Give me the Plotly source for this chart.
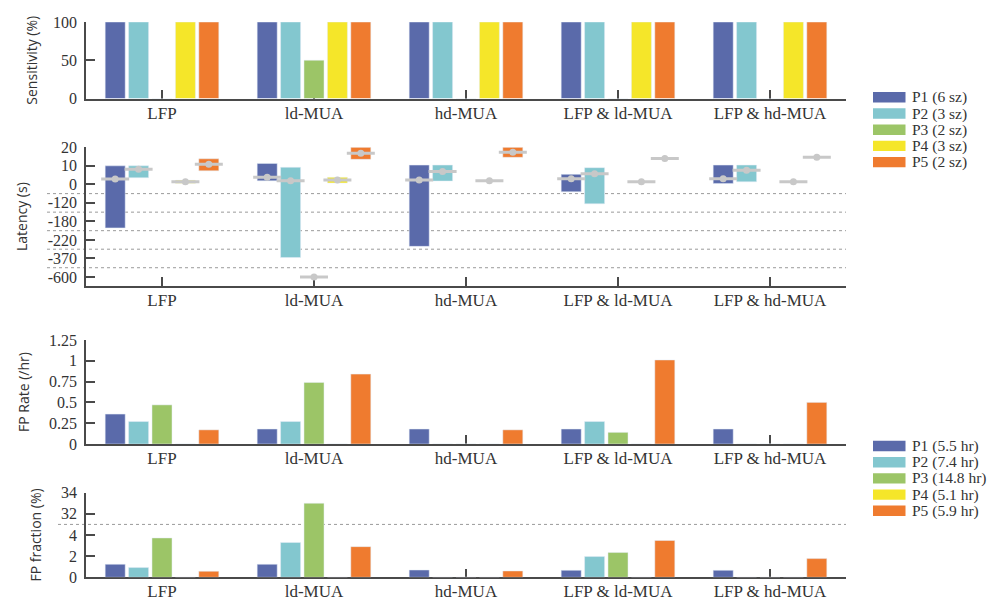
import numpy as np
import plotly.graph_objects as go

W, H = 989, 601

categories = ["LFP", "ld-MUA", "hd-MUA", "LFP & ld-MUA", "LFP & hd-MUA"]
patients = ["P1", "P2", "P3", "P4", "P5"]
colors = ["#5a6aaa", "#83c7cf", "#9cc567", "#f5e629", "#ef7b2f"]
legend_sz = ["P1 (6 sz)", "P2 (3 sz)", "P3 (2 sz)", "P4 (3 sz)", "P5 (2 sz)"]
legend_hr = ["P1 (5.5 hr)", "P2 (7.4 hr)", "P3 (14.8 hr)", "P4 (5.1 hr)", "P5 (5.9 hr)"]

# Sensitivity (%) per patient (rows) x category (cols)
sensitivity = [
    [100, 100, 100, 100, 100],
    [100, 100, 100, 100, 100],
    [0, 50, 0, 0, 0],
    [100, 100, 100, 100, 100],
    [100, 100, 100, 100, 100],
]

# Latency (s): min, max, median
lat_min = [
    [-194, 1.9, -272, -48, 0.5],
    [3.6, -362, 1.8, -123, 1.4],
    [None, -600, None, None, None],
    [0.6, 0.7, 2.0, 1.2, 1.2],
    [7.3, 13.5, 14.6, 14.0, 14.6],
]
lat_max = [
    [10, 11.3, 10.4, 5.4, 10.4],
    [10, 9.2, 10.4, 9.0, 10.4],
    [None, -600, None, None, None],
    [2.2, 3.8, 2.0, 1.6, 1.6],
    [13.8, 20, 20, 14.0, 14.6],
]
lat_med = [
    [2.9, 3.9, 2.3, 3.0, 3.0],
    [8.1, 1.9, 7.0, 5.7, 7.6],
    [None, -600, None, None, None],
    [1.4, 2.3, 2.0, 1.4, 1.4],
    [10.8, 16.8, 17.3, 14.0, 14.6],
]
lat_ticks = [-600, -370, -220, -180, -120, 0, 10, 20]

# FP rate (/hr)
fp_rate = [
    [0.36, 0.18, 0.18, 0.18, 0.18],
    [0.27, 0.27, 0, 0.27, 0],
    [0.47, 0.74, 0, 0.14, 0],
    [0, 0, 0, 0, 0],
    [0.17, 0.84, 0.17, 1.01, 0.50],
]
fp_rate_ticks = [0, 0.25, 0.5, 0.75, 1, 1.25]

# FP fraction (%)
fp_frac = [
    [1.23, 1.23, 0.69, 0.66, 0.66],
    [0.92, 3.29, 0, 1.96, 0],
    [3.72, 33.0, 0, 2.34, 0],
    [0, 0, 0, 0, 0],
    [0.57, 2.9, 0.6, 3.48, 1.77],
]
fp_frac_ticks = [0, 2, 4, 32, 34]


def broken(vals, ticks):
    """Map values onto an evenly spaced broken axis (one unit per tick)."""
    idx = list(range(len(ticks)))
    out = []
    for v in vals:
        out.append(None if v is None else float(np.interp(v, ticks, idx)))
    return out


lat_zero = lat_ticks.index(0)
lat_idx = lambda vals: [None if p is None else p - lat_zero for p in broken(vals, lat_ticks)]

fig = go.Figure()

for i, p in enumerate(patients):
    fig.add_trace(go.Bar(x=categories, y=sensitivity[i], name=p, marker_color=colors[i],
                         offsetgroup=p, xaxis="x", yaxis="y", showlegend=False))

for i, p in enumerate(patients):
    lo = lat_idx(lat_min[i])
    hi = lat_idx(lat_max[i])
    h = [None if a is None else b - a for a, b in zip(lo, hi)]
    fig.add_trace(go.Bar(x=categories, y=h, base=lo, name=p, marker_color=colors[i],
                         offsetgroup=p, xaxis="x2", yaxis="y2", showlegend=False))
for i, p in enumerate(patients):
    med = lat_idx(lat_med[i])
    fig.add_trace(go.Scatter(x=categories, y=med, mode="markers", offsetgroup=p,
                             marker=dict(symbol="line-ew", size=20, line=dict(width=3, color="#c8c8c8")),
                             xaxis="x2", yaxis="y2", showlegend=False, hoverinfo="skip"))
    fig.add_trace(go.Scatter(x=categories, y=med, mode="markers", offsetgroup=p,
                             marker=dict(symbol="circle", size=7, color="#c8c8c8"),
                             xaxis="x2", yaxis="y2", showlegend=False))

for i, p in enumerate(patients):
    fig.add_trace(go.Bar(x=categories, y=fp_rate[i], name=p, marker_color=colors[i],
                         offsetgroup=p, xaxis="x3", yaxis="y3", showlegend=False))

for i, p in enumerate(patients):
    fig.add_trace(go.Bar(x=categories, y=broken(fp_frac[i], fp_frac_ticks), name=p,
                         customdata=fp_frac[i], hovertemplate="%{customdata}",
                         marker_color=colors[i], offsetgroup=p, xaxis="x4", yaxis="y4",
                         showlegend=False))

serif = "Liberation Serif, Times New Roman, serif"
sans = "Open Sans, Noto Sans, sans-serif"
axcol = "#4a4a4a"
txtcol = "#333333"

xdom = [86 / W, 846 / W]


def ydom(top, bottom):
    return [1 - bottom / H, 1 - top / H]


xcommon = dict(type="category", range=[-0.5, 4.5], showline=True, linecolor=axcol, linewidth=1.5,
               ticks="inside", ticklen=9, tickwidth=1.5, tickcolor=axcol, layer="below traces",
               tickfont=dict(family=serif, size=17, color=txtcol), showgrid=False, zeroline=False,
               domain=xdom, automargin=False, fixedrange=True, ticklabelstandoff=-2)
ycommon = dict(showline=True, linecolor=axcol, linewidth=1.5, ticks="inside", ticklen=9,
               tickwidth=1.5, tickcolor=axcol, tickfont=dict(family=serif, size=16, color=txtcol),
               showgrid=False, zeroline=False, automargin=False, ticklabelstandoff=4,
               title_font=dict(family=sans, size=14, color=txtcol), title_standoff=14)

lat_labels = [str(t) for t in lat_ticks]
lat_vals = [k - lat_zero for k in range(len(lat_ticks))]

fig.update_layout(
    width=W, height=H, margin=dict(l=0, r=0, t=0, b=0), autosize=False,
    plot_bgcolor="white", paper_bgcolor="white",
    barmode="group", bargap=0.23, bargroupgap=0.145,
    scattermode="group", scattergap=0.23,
    xaxis=dict(xcommon, anchor="y"),
    xaxis2=dict(xcommon, anchor="y2"),
    xaxis3=dict(xcommon, anchor="y3"),
    xaxis4=dict(xcommon, anchor="y4"),
    yaxis=dict(ycommon, anchor="x", domain=ydom(22, 98.5), range=[0, 100],
               tickvals=[0, 50, 100], title_text="Sensitivity (%)", title_standoff=12),
    yaxis2=dict(ycommon, anchor="x2", domain=ydom(147.3, 286), range=[-5.486, 2.0],
                tickvals=lat_vals, ticktext=lat_labels, title_text="Latency (s)", title_standoff=17),
    yaxis3=dict(ycommon, anchor="x3", domain=ydom(340, 444), range=[0, 1.25],
                tickvals=fp_rate_ticks, ticktext=[f"{t:g}" for t in fp_rate_ticks],
                title_text="FP Rate (/hr)", title_standoff=16),
    yaxis4=dict(ycommon, anchor="x4", domain=ydom(492.7, 577.3), range=[0, 4],
                tickvals=list(range(len(fp_frac_ticks))), ticktext=[str(t) for t in fp_frac_ticks],
                title_text="FP fraction (%)", title_standoff=16),
    showlegend=False,
)

shapes = []
for k in range(len(lat_ticks) - 1):
    yv = lat_vals[k] + 0.5
    if yv < 0:
        shapes.append(dict(type="line", xref="paper", yref="y2", x0=47 / W, x1=846 / W, y0=yv, y1=yv,
                           line=dict(color="#9a9a9a", width=1, dash="dot"), layer="below"))
shapes.append(dict(type="line", xref="paper", yref="y4", x0=58 / W, x1=846 / W, y0=2.5, y1=2.5,
                   line=dict(color="#9a9a9a", width=1, dash="dot"), layer="below"))

annotations = []
for block, labels in ((97.3, legend_sz), (446.0, legend_hr)):
    for i, lab in enumerate(labels):
        yc = block + i * 16.2
        shapes.append(dict(type="rect", xref="paper", yref="paper",
                           x0=873 / W, x1=905.5 / W, y0=1 - (yc + 5.2) / H, y1=1 - (yc - 5.2) / H,
                           fillcolor=colors[i], line=dict(width=0)))
        annotations.append(dict(xref="paper", yref="paper", x=910 / W, y=1 - yc / H, text=lab,
                                showarrow=False, xanchor="left", yanchor="middle",
                                font=dict(family=serif, size=15.5, color=txtcol)))

fig.update_layout(shapes=shapes, annotations=annotations)

fig.write_html("out.html", post_script="document.body.style.margin='0';",
               config={"displayModeBar": False})
